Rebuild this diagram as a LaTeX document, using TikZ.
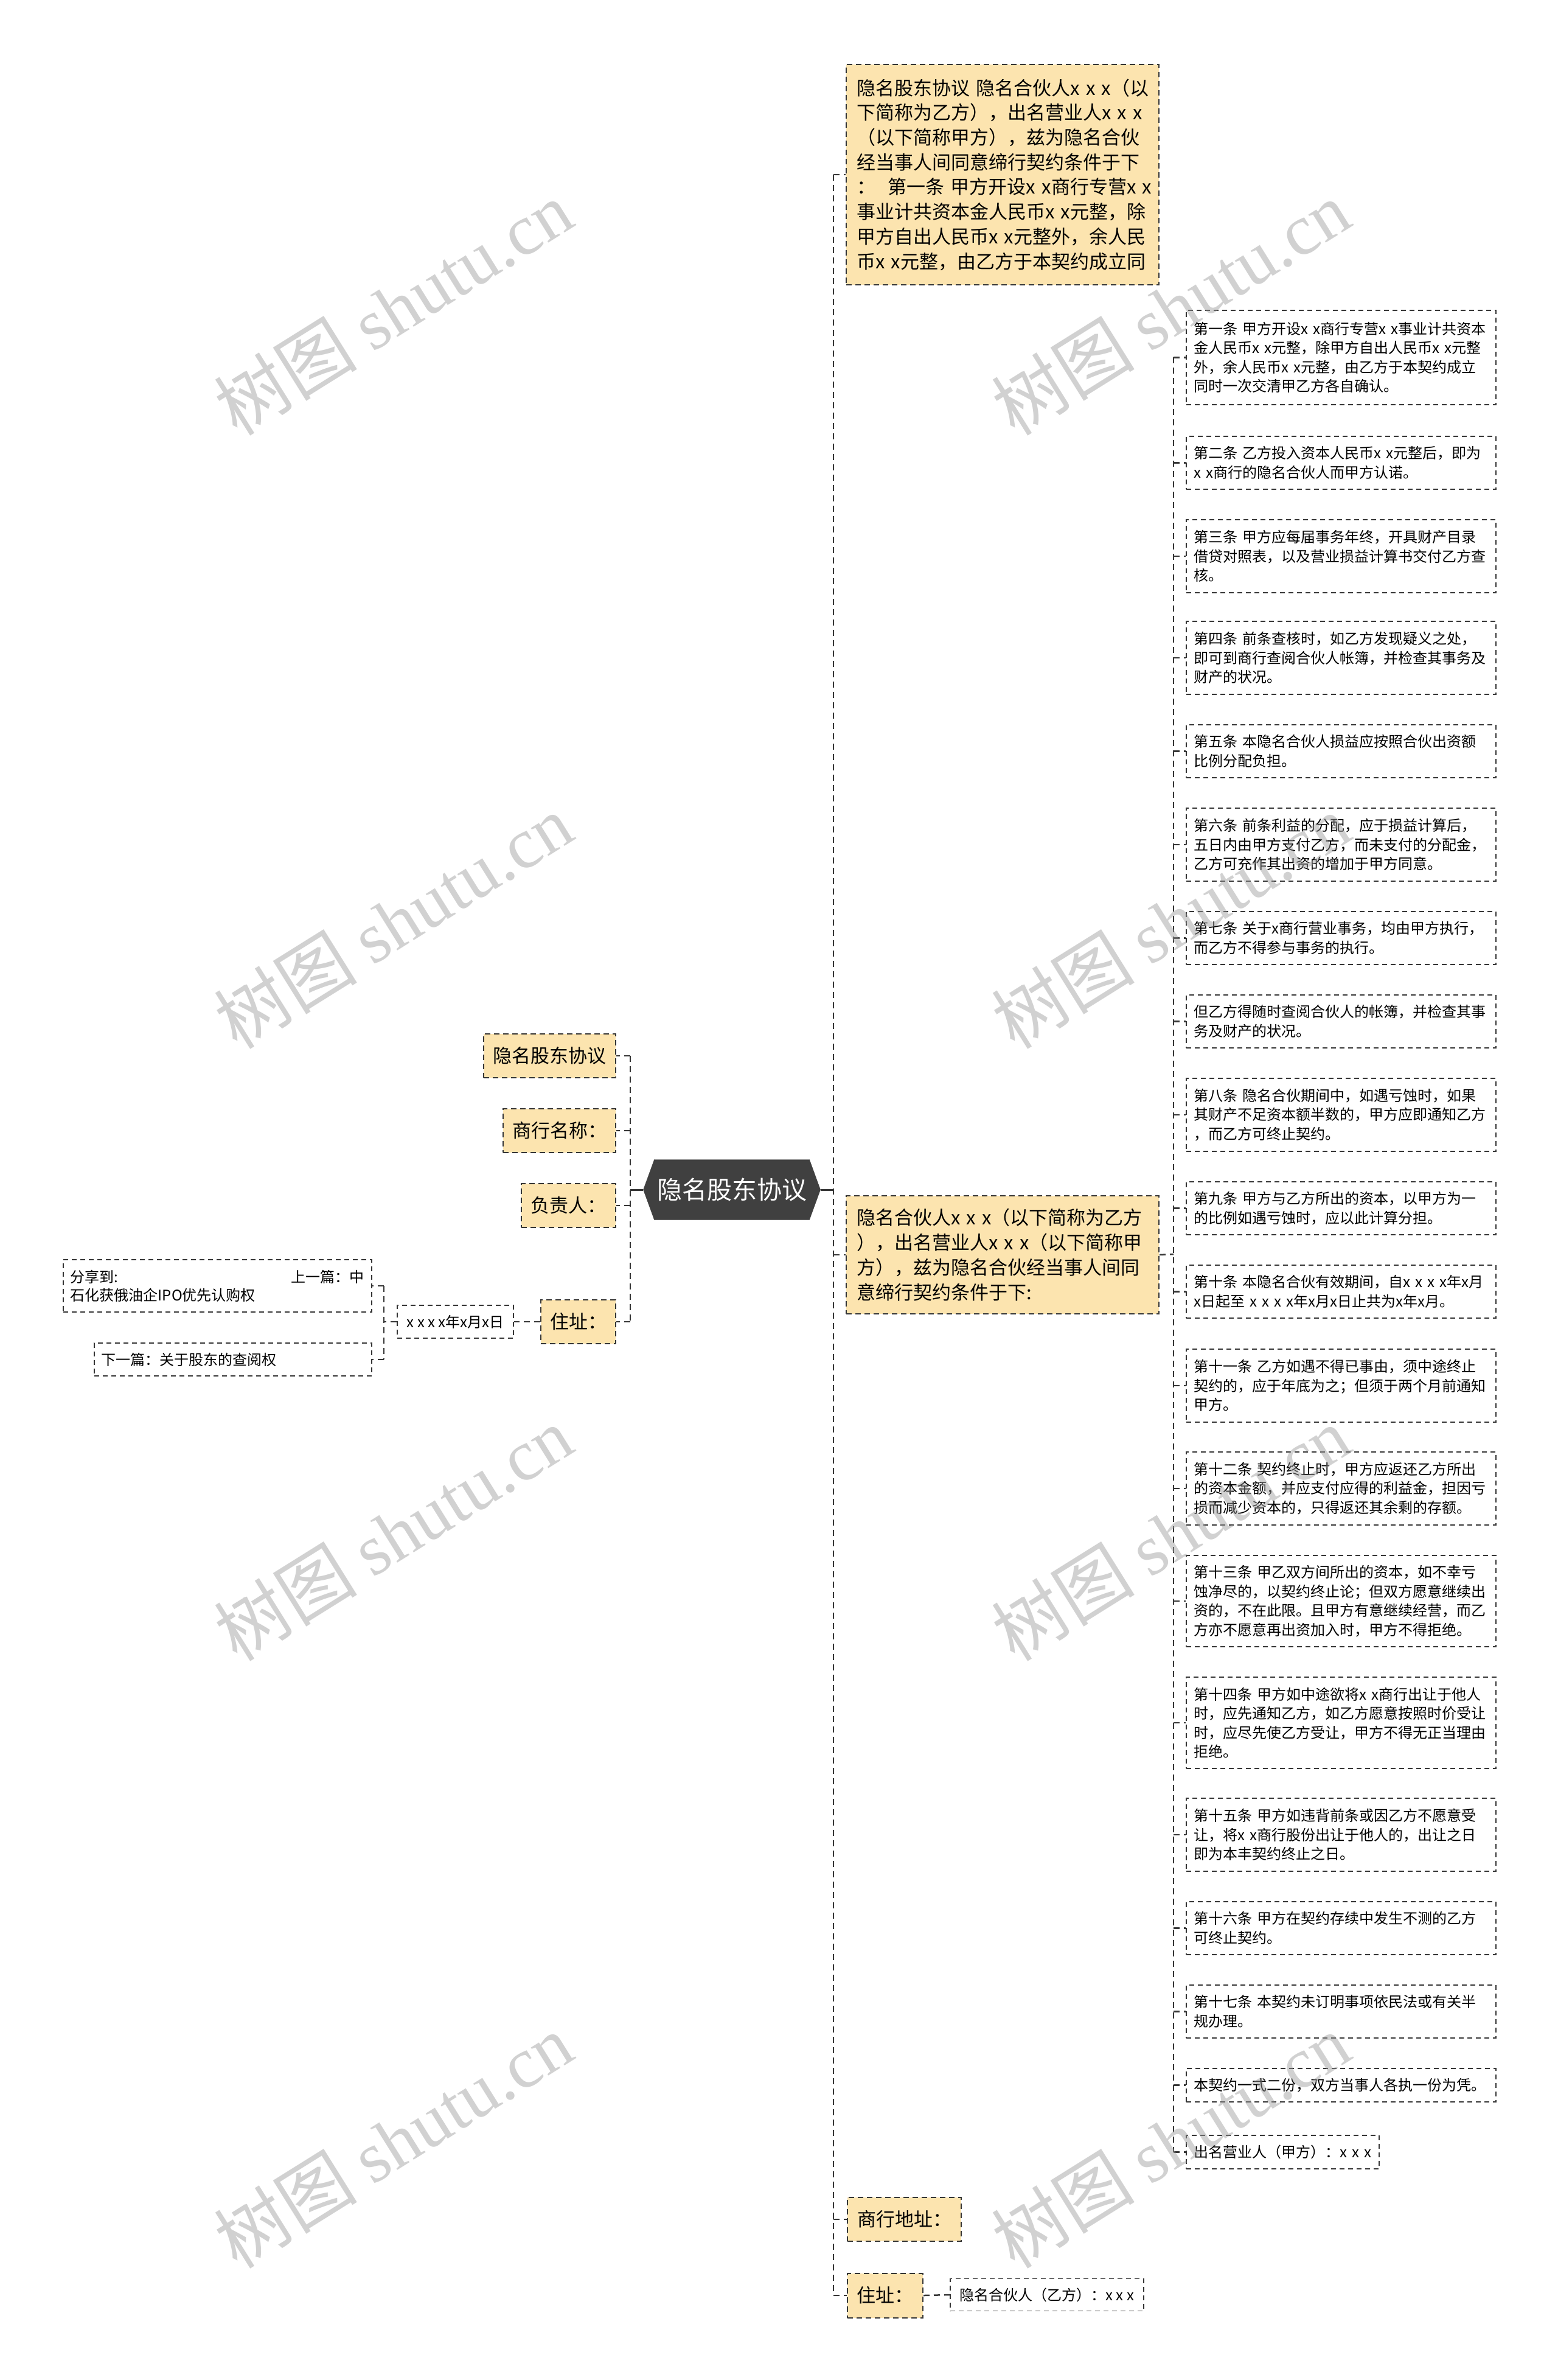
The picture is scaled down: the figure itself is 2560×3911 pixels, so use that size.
\documentclass[tikz,border=0pt]{standalone}
\usepackage{fontspec}
\setmainfont{Noto Sans CJK SC}
\newfontfamily\wmlatin{Liberation Serif}
\usetikzlibrary{shapes.symbols}
\definecolor{lc}{HTML}{363636}
\definecolor{ylw}{HTML}{FCE4AF}
\definecolor{hexc}{HTML}{404040}
\definecolor{wmc}{HTML}{9A9A9A}
\tikzset{
  conn/.style={draw=lc, line width=2.5pt, dash pattern=on 10pt off 7pt},
  solidconn/.style={draw=lc, line width=3pt},
  ybox/.style={rectangle, draw=lc, fill=ylw, line width=2pt, dash pattern=on 9pt off 6pt,
    inner sep=0pt, align=center, font=\fontsize{31}{37}\selectfont},
  bigy/.style={ybox, anchor=north west, minimum width=514, text width=480pt, align=left, inner xsep=17pt},
  wbox/.style={rectangle, draw=lc, fill=white, line width=1.8pt, dash pattern=on 8pt off 6pt,
    inner xsep=13pt, inner ysep=0pt, align=left, anchor=north west,
    minimum width=509, text width=483pt, font=\fontsize{24}{31.5}\selectfont},
  sbox/.style={rectangle, draw=lc, fill=white, line width=1.8pt, dash pattern=on 8pt off 6pt,
    inner xsep=12pt, inner ysep=0pt, align=center, font=\fontsize{24}{30}\selectfont},
  hexa/.style={signal, signal to=west and east, signal pointer angle=140, fill=hexc, draw=hexc,
    text=white, font=\fontsize{41}{49}\selectfont, minimum width=291, minimum height=99, inner sep=0pt},
  wm/.style={rotate=32, text=wmc, text opacity=0.45, font=\fontsize{118}{120}\selectfont, inner sep=0pt}
}
\newcommand\myrb[4]{\node[wbox, minimum height=#3] (#1) at (1949,#2) {#4};}
\begin{document}
\begin{tikzpicture}[x=1pt, y=-1pt]
\useasboundingbox (0,0) rectangle (2560,3911);
\fill[white] (0,0) rectangle (2560,3911);

% center
\node[hexa] (c) at (1203,1955) {隐名股东协议};

% right level 1
\node[bigy, minimum height=362, font=\fontsize{31}{40.7}\selectfont] (r1) at (1390,105)
 {隐名股东协议~隐名合伙人x~x~x（以\\下简称为乙方），出名营业人x~x~x\\（以下简称甲方），兹为隐名合伙\\经当事人间同意缔行契约条件于下\\：~~第一条~甲方开设x~x商行专营x~x\\事业计共资本金人民币x~x元整，除\\甲方自出人民币x~x元整外，余人民\\币x~x元整，由乙方于本契约成立同};
\node[bigy, minimum height=194, font=\fontsize{31}{41}\selectfont] (r2) at (1390,1964)
 {隐名合伙人x~x~x（以下简称为乙方\\），出名营业人x~x~x（以下简称甲\\方），兹为隐名合伙经当事人间同\\意缔行契约条件于下:};
\node[ybox, anchor=west, minimum width=187, minimum height=72] (r3) at (1392,3647) {商行地址：};
\node[ybox, anchor=west, minimum width=124, minimum height=73] (r4) at (1392,3772) {住址：};
\node[sbox, anchor=west, minimum width=318, minimum height=53] (r4a) at (1561,3771) {隐名合伙人（乙方）：x~x~x};

% right level 2
\myrb{b1}{509}{155}{第一条~甲方开设x~x商行专营x~x事业计共资本\\金人民币x~x元整，除甲方自出人民币x~x元整\\外，余人民币x~x元整，由乙方于本契约成立\\同时一次交清甲乙方各自确认。}
\myrb{b2}{716}{87}{第二条~乙方投入资本人民币x~x元整后，即为\\x~x商行的隐名合伙人而甲方认诺。}
\myrb{b3}{853}{120}{第三条~甲方应每届事务年终，开具财产目录\\借贷对照表，以及营业损益计算书交付乙方查\\核。}
\myrb{b4}{1020}{120}{第四条~前条查核时，如乙方发现疑义之处，\\即可到商行查阅合伙人帐簿，并检查其事务及\\财产的状况。}
\myrb{b5}{1190}{87}{第五条~本隐名合伙人损益应按照合伙出资额\\比例分配负担。}
\myrb{b6}{1327}{120}{第六条~前条利益的分配，应于损益计算后，\\五日内由甲方支付乙方，而未支付的分配金，\\乙方可充作其出资的增加于甲方同意。}
\myrb{b7}{1497}{87}{第七条~关于x商行营业事务，均由甲方执行，\\而乙方不得参与事务的执行。}
\myrb{b8}{1634}{87}{但乙方得随时查阅合伙人的帐簿，并检查其事\\务及财产的状况。}
\myrb{b9}{1771}{120}{第八条~隐名合伙期间中，如遇亏蚀时，如果\\其财产不足资本额半数的，甲方应即通知乙方\\，而乙方可终止契约。}
\myrb{b10}{1941}{87}{第九条~甲方与乙方所出的资本，以甲方为一\\的比例如遇亏蚀时，应以此计算分担。}
\myrb{b11}{2078}{87}{第十条~本隐名合伙有效期间，自x~x~x~x年x月\\x日起至~x~x~x~x年x月x日止共为x年x月。}
\myrb{b12}{2216}{120}{第十一条~乙方如遇不得已事由，须中途终止\\契约的，应于年底为之；但须于两个月前通知\\甲方。}
\myrb{b13}{2385}{120}{第十二条~契约终止时，甲方应返还乙方所出\\的资本金额，并应支付应得的利益金，担因亏\\损而减少资本的，只得返还其余剩的存额。}
\myrb{b14}{2555}{150}{第十三条~甲乙双方间所出的资本，如不幸亏\\蚀净尽的，以契约终止论；但双方愿意继续出\\资的，不在此限。且甲方有意继续经营，而乙\\方亦不愿意再出资加入时，甲方不得拒绝。}
\myrb{b15}{2755}{150}{第十四条~甲方如中途欲将x~x商行出让于他人\\时，应先通知乙方，如乙方愿意按照时价受让\\时，应尽先使乙方受让，甲方不得无正当理由\\拒绝。}
\myrb{b16}{2954}{120}{第十五条~甲方如违背前条或因乙方不愿意受\\让，将x~x商行股份出让于他人的，出让之日\\即为本丰契约终止之日。}
\myrb{b17}{3124}{87}{第十六条~甲方在契约存续中发生不测的乙方\\可终止契约。}
\myrb{b18}{3261}{87}{第十七条~本契约未订明事项依民法或有关半\\规办理。}
\myrb{b19}{3398}{55}{本契约一式二份，双方当事人各执一份为凭。}
\node[wbox, minimum width=317, text width=291pt, minimum height=55] (b20) at (1949,3508) {出名营业人（甲方）：x~x~x};

% left side
\node[ybox, anchor=east, minimum width=217, minimum height=72] (l1) at (1013,1735) {隐名股东协议};
\node[ybox, anchor=east, minimum width=185, minimum height=72] (l2) at (1013,1858) {商行名称：};
\node[ybox, anchor=east, minimum width=155, minimum height=72] (l3) at (1013,1981) {负责人：};
\node[ybox, anchor=east, minimum width=123, minimum height=72] (l4) at (1013,2172) {住址：};
\node[sbox, anchor=east, minimum width=191, minimum height=54] (l4a) at (845,2172) {x~x~x~x年x月x日};
\node[sbox, anchor=north west, minimum width=507, minimum height=86, text width=483pt, align=left] (l4b) at (103,2069)
 {分享到:\hfill 上一篇：中\\石化获俄油企IPO优先认购权};
\node[sbox, anchor=north west, minimum width=456, minimum height=54, text width=432pt, align=left] (l4c) at (154,2206)
 {下一篇：关于股东的查阅权};

% connectors
\coordinate (rsp) at (1370,1955);
\coordinate (lsp) at (1036,1955);
\coordinate (rsp2) at (1929,2061);
\coordinate (lsp2) at (631,2172);
\draw[solidconn] (c.east) -- (rsp);
\draw[solidconn] (c.west) -- (lsp);
\draw[conn] (rsp |- r1.west) -- (rsp |- r4.west);
\foreach \n in {r1,r2,r3,r4} \draw[conn] (rsp |- \n.west) -- (\n.west);
\draw[conn] (lsp |- l1.east) -- (lsp |- l4.east);
\foreach \n in {l1,l2,l3,l4} \draw[conn] (lsp |- \n.east) -- (\n.east);
\draw[conn] (l4.west) -- (l4a.east);
\draw[conn] (l4a.west) -- (lsp2);
\draw[conn] (lsp2 |- l4b.east) -- (lsp2 |- l4c.east);
\foreach \n in {l4b,l4c} \draw[conn] (lsp2 |- \n.east) -- (\n.east);
\draw[conn] (r2.east) -- (rsp2);
\draw[conn] (rsp2 |- b1.west) -- (rsp2 |- b20.west);
\foreach \n in {b1,b2,b3,b4,b5,b6,b7,b8,b9,b10,b11,b12,b13,b14,b15,b16,b17,b18,b19,b20}
  \draw[conn] (rsp2 |- \n.west) -- (\n.west);
\draw[conn] (r4.east) -- (r4a.west);

% watermarks
\foreach \wx in {646,1924} \foreach \wy in {506,1514,2520,3518}
  \node[wm, name=wm\wx\wy] at (\wx,\wy) {树图~{\wmlatin shutu.cn}};
\end{tikzpicture}
\end{document}
